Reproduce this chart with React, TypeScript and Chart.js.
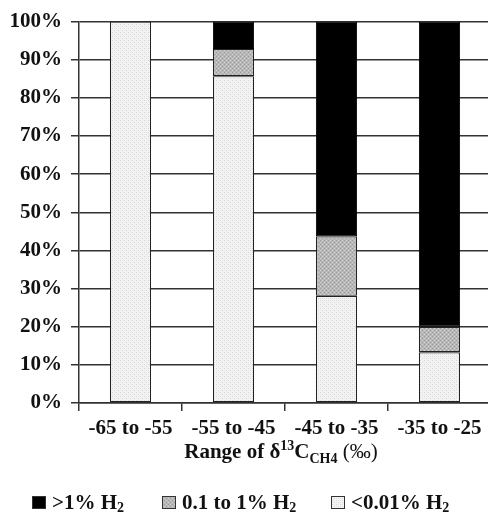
import React, { useEffect, useRef } from "react";
import { Chart, registerables } from "chart.js";
Chart.register(...registerables);

const categories = ["-65 to -55", "-55 to -45", "-45 to -35", "-35 to -25"];
const lowH2: (number | null)[] = [100, 85.7, 28.1, 13.3];
const midH2: (number | null)[] = [null, 7.1, 15.6, 6.7];
const highH2: (number | null)[] = [null, 7.2, 56.3, 80.0];
const seriesNames = [">1% H", "0.1 to 1% H", "<0.01% H"];

const FONT = '"Liberation Serif", "Times New Roman", serif';

function makePattern(base: string, dot1: string, dot2: string): CanvasPattern | string {
  const c = document.createElement("canvas");
  c.width = 4;
  c.height = 4;
  const g = c.getContext("2d");
  if (!g) return base;
  g.fillStyle = base;
  g.fillRect(0, 0, 4, 4);
  g.fillStyle = dot1;
  g.fillRect(0, 0, 1, 1);
  g.fillRect(2, 2, 1, 1);
  g.fillStyle = dot2;
  g.fillRect(2, 0, 1, 1);
  g.fillRect(0, 2, 1, 1);
  const p = g.createPattern(c, "repeat");
  return p || base;
}

export default function App() {
  const ref = useRef<HTMLCanvasElement | null>(null);
  useEffect(() => {
    if (!ref.current) return;
    const lightFill = makePattern("#f3f3f3", "#d8d8d8", "#e8e8e8");
    const grayFill = makePattern("#b8b8b8", "#9a9a9a", "#cfcfcf");
    const fills = ["#000000", grayFill, lightFill];

    const overlay = {
      id: "overlay",
      afterDraw(chart: any) {
        const ctx = chart.ctx as CanvasRenderingContext2D;
        ctx.save();
        ctx.fillStyle = "#111";
        ctx.textBaseline = "alphabetic";
        ctx.textAlign = "left";
        const big = `bold 21px ${FONT}`;
        const small = `bold 14px ${FONT}`;
        const parts = [
          { t: "Range of \u03b4", f: big, dy: 0 },
          { t: "13", f: small, dy: -8 },
          { t: "C", f: big, dy: 0 },
          { t: "CH4", f: small, dy: 5 },
          { t: " (\u2030)", f: `21px ${FONT}`, dy: 0 },
        ];
        let total = 0;
        for (const p of parts) {
          ctx.font = p.f;
          total += ctx.measureText(p.t).width;
        }
        let x = 281 - total / 2;
        const by = 458;
        for (const p of parts) {
          ctx.font = p.f;
          ctx.fillText(p.t, x, by + p.dy);
          x += ctx.measureText(p.t).width;
        }
        // legend
        const lx = [32, 162, 331];
        const ly = 509;
        seriesNames.forEach((name, i) => {
          const sx = lx[i];
          ctx.fillStyle = fills[i] as any;
          ctx.fillRect(sx, ly - 13, 14, 13);
          ctx.strokeStyle = "#333";
          ctx.lineWidth = 1;
          ctx.strokeRect(sx + 0.5, ly - 12.5, 13, 12);
          ctx.fillStyle = "#111";
          ctx.font = big;
          const tx = sx + 20;
          ctx.fillText(name, tx, ly);
          const w = ctx.measureText(name).width;
          ctx.font = small;
          ctx.fillText("2", tx + w, ly + 3);
        });
        ctx.restore();
      },
    };

    const chart = new Chart(ref.current, {
      type: "bar",
      data: {
        labels: categories,
        datasets: [
          { label: "<0.01% H2", data: lowH2, backgroundColor: lightFill as any, borderColor: "#222", borderWidth: 1.2, borderSkipped: false, categoryPercentage: 1, barPercentage: 0.4 },
          { label: "0.1 to 1% H2", data: midH2, backgroundColor: grayFill as any, borderColor: "#222", borderWidth: 1.2, borderSkipped: false, categoryPercentage: 1, barPercentage: 0.4 },
          { label: ">1% H2", data: highH2, backgroundColor: "#000", borderColor: "#000", borderWidth: 1, borderSkipped: false, categoryPercentage: 1, barPercentage: 0.4 },
        ],
      },
      options: {
        responsive: false,
        animation: false,
        devicePixelRatio: 1,
        layout: { padding: { left: 0, right: 9, top: 19, bottom: 0 } },
        plugins: { legend: { display: false }, tooltip: { enabled: false }, title: { display: false } },
        scales: {
          x: {
            stacked: true,
            grid: { display: true, offset: true, drawOnChartArea: false, drawTicks: true, tickLength: 8, color: "#333", lineWidth: 1.5 },
            border: { display: true, color: "#333", width: 1.5 },
            ticks: { color: "#111", font: { family: FONT, size: 21, weight: "bold" }, padding: 5, maxRotation: 0, autoSkip: false },
            afterFit(scale: any) { scale.height = 109; },
          } as any,
          y: {
            stacked: true,
            min: 0,
            max: 100,
            grid: { color: "#333", lineWidth: 1.5, tickLength: 8 },
            border: { display: true, color: "#333", width: 1.5 },
            ticks: { stepSize: 10, color: "#111", padding: 9, font: { family: FONT, size: 21, weight: "bold" }, callback: (v: any) => `${v}%` },
            afterFit(scale: any) { scale.width = 79; },
          } as any,
        },
      },
      plugins: [overlay],
    });
    return () => chart.destroy();
  }, []);
  return (
    <div style={{ position: "absolute", left: 0, top: 0, width: 488, height: 512, overflow: "hidden", background: "#fff" }}>
      <canvas ref={ref} width={500} height={512} style={{ display: "block" }} />
    </div>
  );
}
